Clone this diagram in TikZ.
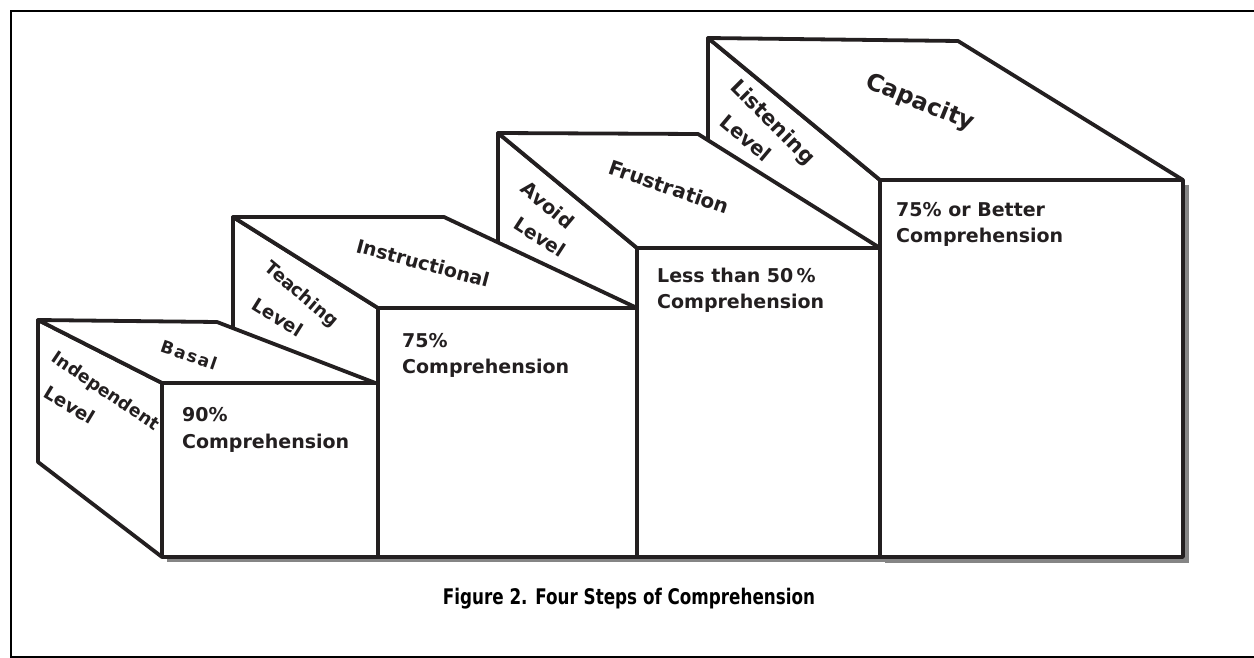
\documentclass[tikz,border=0pt]{standalone}
\usepackage{graphicx}
\usepackage{fontspec}
\setmainfont{DejaVu Sans}
\definecolor{ink}{HTML}{231F20}
\definecolor{shade}{HTML}{858585}
\begin{document}
\begin{tikzpicture}[x=1pt,y=-1pt,
  face/.style={fill=white,draw=ink,line width=3.8pt,line join=round},
  shadowbox/.style={fill=shade,draw=none},
  fronttxt/.style={anchor=base west,inner sep=0pt,text=ink,font=\fontsize{19}{19}\selectfont\bfseries},
  slant/.style={inner sep=0pt,text=ink,font=\fontsize{17.5}{17.5}\selectfont\bfseries},
  frameline/.style={draw=black,line width=2pt}]
\useasboundingbox (0,0) rectangle (1254,658);
% outer frame
\draw[frameline] (1254,11) -- (11,11) -- (11,657) -- (1254,657);
% shadows of the front faces
\fill[shadowbox] (167,388) rectangle (383,562);
\fill[shadowbox] (383,313) rectangle (641,562);
\fill[shadowbox] (641,253) rectangle (885,562);
\fill[shadowbox] (885,185) rectangle (1189,563);
% box 4 (Capacity)
\draw[face] (708,38) -- (880,180) -- (880,557) -- (708,430) -- cycle;
\draw[face] (708,38) -- (958,41) -- (1183,180) -- (880,180) -- cycle;
\draw[face] (880,180) rectangle (1183,557);
% box 3 (Frustration)
\draw[face] (498,133) -- (637,248) -- (637,557) -- (498,450) -- cycle;
\draw[face] (498,133) -- (698,134) -- (880,248) -- (637,248) -- cycle;
\draw[face] (637,248) rectangle (880,557);
% box 2 (Instructional)
\draw[face] (233,217) -- (378,308) -- (378,557) -- (233,480) -- cycle;
\draw[face] (233,217) -- (444,217) -- (637,308) -- (378,308) -- cycle;
\draw[face] (378,308) rectangle (637,557);
% box 1 (Basal)
\draw[face] (38,320) -- (162,383) -- (162,557) -- (38,462) -- cycle;
\draw[face] (38,320) -- (217,322) -- (378,384) -- (162,383) -- cycle;
\draw[face] (162,383) rectangle (378,557);
% labels on the slanted faces
\node[slant,rotate=-19,font=\fontsize{17}{17}\selectfont\bfseries] (basal) at (189,355) {B\kern1.6pt a\kern1.6pt s\kern1.6pt a\kern1.6pt l};
\node[slant,rotate=-34] (indep) at (105,392) {Independent};
\node[slant,rotate=-31,font=\fontsize{18.5}{18.5}\selectfont\bfseries] (indeplev) at (70,405) {Level};
\node[slant,rotate=-15,font=\fontsize{19}{19}\selectfont\bfseries] (instr) at (423,263) {Instructional};
\node[slant,rotate=-40,font=\fontsize{18}{18}\selectfont\bfseries] (teach) at (301,295) {Teaching};
\node[slant,rotate=-32,font=\fontsize{18.5}{18.5}\selectfont\bfseries] (teachlev) at (278,317) {Level};
\node[slant,rotate=-19,font=\fontsize{20}{20}\selectfont\bfseries] (frus) at (669,187) {Frustration};
\node[slant,rotate=-40,font=\fontsize{19.5}{19.5}\selectfont\bfseries] (avoid) at (548,205) {Avoid};
\node[slant,rotate=-33,font=\fontsize{19}{19}\selectfont\bfseries] (avoidlev) at (540,237) {Level};
\node[slant,rotate=-22,font=\fontsize{23.5}{23.5}\selectfont\bfseries] (capac) at (920,103) {Capacity};
\node[slant,rotate=-45,font=\fontsize{21}{21}\selectfont\bfseries] (listen) at (772,123) {Listening};
\node[slant,rotate=-40,font=\fontsize{20}{20}\selectfont\bfseries] (listenlev) at (746,138) {Level};
% texts on the front faces
\node[fronttxt] (t1a) at (182,421) {90\%};
\node[fronttxt] (t1b) at (182,448) {Comprehension};
\node[fronttxt] (t2a) at (402,347) {75\%};
\node[fronttxt] (t2b) at (402,373) {Comprehension};
\node[fronttxt] (t3a) at (657,282) {Less than 50\,\%};
\node[fronttxt] (t3b) at (657,308) {Comprehension};
\node[fronttxt] (t4a) at (896,217) {75\% or Better};
\node[fronttxt] (t4b) at (896,243) {Comprehension};
% caption
\node[anchor=base,inner sep=0pt,font=\fontsize{21.5}{21.5}\selectfont\bfseries] (caption) at (629,604) {\scalebox{0.78}[1]{Figure 2. Four Steps of Comprehension}};
\end{tikzpicture}
\end{document}
